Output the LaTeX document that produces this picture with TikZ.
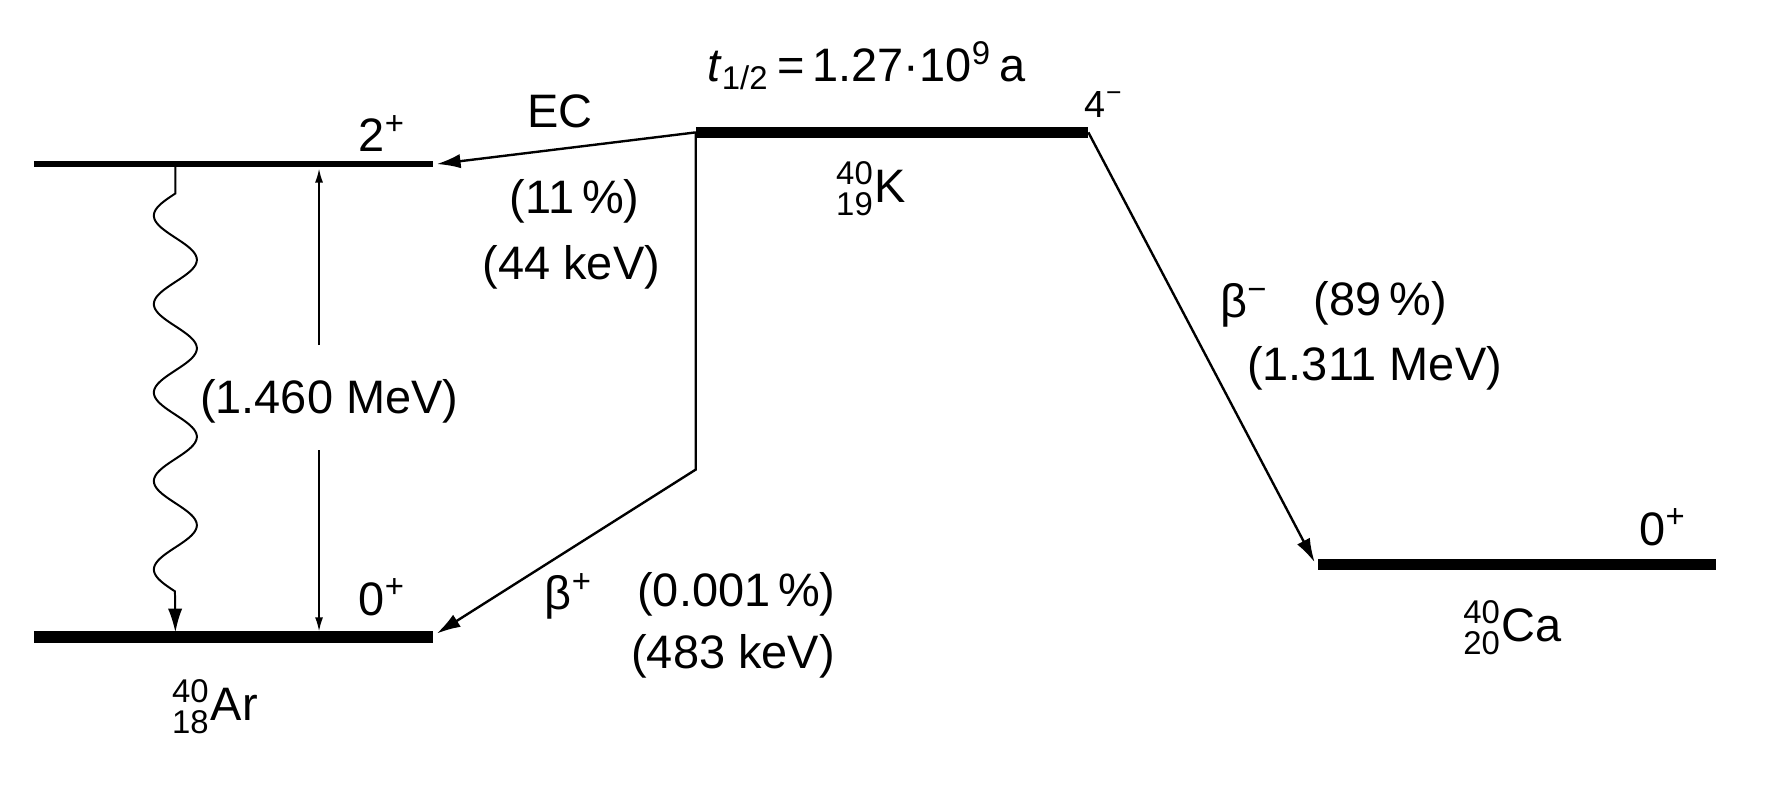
\documentclass[tikz,border=0pt]{standalone}
\usepackage{fontspec}
\setmainfont{Liberation Sans}
\usepackage{amsmath}
\usetikzlibrary{arrows.meta}
\newcommand{\nuc}[3]{$^{\text{#1}}_{\text{#2}}$#3}

\begin{document}
\begin{tikzpicture}[x=0.01cm,y=-0.01cm,
	level/.style={line width=2.8pt},
	sublevel/.style={line width=1.6pt},
	decay/.style={line width=0.6pt,-{Latex[length=6pt,width=3.6pt]}},
	gap/.style={line width=0.4pt,-{Latex[length=3.5pt,width=2pt]}},
	lbl/.style={inner sep=0pt,font=\fontsize{11.8}{14}\selectfont},
	spin/.style={inner sep=0pt,font=\fontsize{9.5}{11}\selectfont}]
	\useasboundingbox (0,0) rectangle (1568,714);

	% levels
	\coordinate (ar2l) at (30,145);   \coordinate (ar2r) at (383,145);
	\coordinate (ar0l) at (30,563);   \coordinate (ar0r) at (383,563);
	\coordinate (kl) at (615,117);    \coordinate (kr) at (962,117);
	\coordinate (cal) at (1165,499);  \coordinate (car) at (1517,499);
	\draw[sublevel] (ar2l) -- (ar2r);
	\draw[level] (ar0l) -- (ar0r);
	\draw[level] (kl) -- (kr);
	\draw[level] (cal) -- (car);

	% decays
	\coordinate (ectip) at (386,145);
	\coordinate (bend) at (615,415);
	\coordinate (bptip) at (386,560);
	\coordinate (bmtip) at (1162,497);
	\draw[decay] (kl) -- (ectip);
	\draw[decay] (kl) -- (bend) -- (bptip);
	\draw[decay] (kr) -- (bmtip);

	% gamma
	\coordinate (gtop) at (155,145);
	\coordinate (gtip) at (155,559);
	\draw[decay,line width=0.5pt] (gtop) -- (155,171)
		-- plot[domain=0:4.5,samples=200] ({155-19*sin(360*\x)},{171+78.2*\x})
		-- (gtip);

	% energy gap
	\coordinate (mevup) at (282,305);  \coordinate (gaptop) at (282,149);
	\coordinate (mevdn) at (282,398);  \coordinate (gapbot) at (282,558);
	\draw[gap] (mevup) -- (gaptop);
	\draw[gap] (mevdn) -- (gapbot);

	% labels
	\node[lbl] (ar2spin) at (338,118) {2\textsuperscript{+}};
	\node[lbl] (ar0spin) at (338,528) {0\textsuperscript{+}};
	\node[lbl] (caspin) at (1470,466) {0\textsuperscript{+}};
	\node[spin] (kspin) at (976,92) {4\textsuperscript{−}};
	\node[lbl] (half) at (766,58) {\textit{t}\textsubscript{1/2}\,=\,1.27·10\textsuperscript{9}\,a};
	\node[lbl] (knuc) at (770,167) {\nuc{40}{19}{K}};
	\node[lbl] (arnuc) at (190,625) {\nuc{40}{18}{Ar}};
	\node[lbl] (canuc) at (1337,555) {\nuc{40}{20}{Ca}};
	\node[lbl] (ec) at (495,98) {EC};
	\node[lbl] (ecpct) at (508,178) {(11\,\%)};
	\node[lbl] (ecen) at (505,236) {(44 keV)};
	\node[lbl] (mev) at (291,355) {(1.460 MeV)};
	\node[lbl] (bp) at (503,527) {β\textsuperscript{+}};
	\node[lbl] (bppct) at (651,525) {(0.001\,\%)};
	\node[lbl] (bpen) at (648,580) {(483 keV)};
	\node[lbl] (bm) at (1100,270) {β\textsuperscript{−}};
	\node[lbl] (bmpct) at (1220,268) {(89\,\%)};
	\node[lbl] (bmen) at (1215,326) {(1.311 MeV)};
\end{tikzpicture}
\end{document}
